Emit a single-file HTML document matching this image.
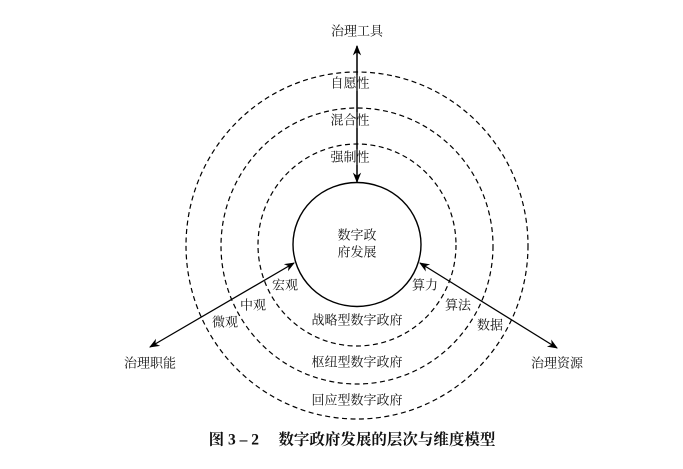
<!DOCTYPE html>
<html><head><meta charset="utf-8"><style>
html,body{margin:0;padding:0;background:#fff;}
svg text{font-family:"Liberation Serif","Noto Serif CJK SC",serif;font-size:13px;fill:#111;text-anchor:middle;dominant-baseline:central;}
</style></head><body>
<svg width="683" height="464" viewBox="0 0 683 464" xmlns="http://www.w3.org/2000/svg">
<defs><marker id="a" viewBox="0 0 10 10" refX="9" refY="5" markerWidth="8" markerHeight="8" orient="auto-start-reverse"><path d="M0,1 L10,5 L0,9 L3,5 z" fill="#000"/></marker></defs>
<g fill="none" stroke="#000" stroke-width="1.2" stroke-dasharray="5,3.5">
<ellipse cx="357" cy="245.5" rx="171" ry="173.5"/>
<ellipse cx="357" cy="246" rx="136" ry="138"/>
<ellipse cx="357" cy="245" rx="99" ry="101"/>
</g>
<ellipse cx="357" cy="244.5" rx="64" ry="62" fill="none" stroke="#000" stroke-width="1.4"/>
<g stroke="#000" stroke-width="1.3" fill="none">
<line x1="357" y1="46" x2="357" y2="182" marker-start="url(#a)" marker-end="url(#a)"/>
<line x1="150" y1="347" x2="294" y2="263" marker-start="url(#a)" marker-end="url(#a)"/>
<line x1="557" y1="348" x2="420" y2="263" marker-start="url(#a)" marker-end="url(#a)"/>
</g>
<g>
<rect x="328" y="75" width="44" height="16" fill="#fff"/>
<rect x="328" y="112" width="44" height="16" fill="#fff"/>
<rect x="328" y="149" width="44" height="16" fill="#fff"/>
</g>
<line x1="357" y1="46" x2="357" y2="182" stroke="#000" stroke-width="1.3"/>
<text x="357" y="31">治理工具</text>
<text x="350" y="83">自愿性</text>
<text x="350" y="120">混合性</text>
<text x="350" y="157">强制性</text>
<text x="357" y="235">数字政</text>
<text x="357" y="252">府发展</text>
<text x="285" y="285">宏观</text>
<text x="253" y="305">中观</text>
<text x="225" y="322">微观</text>
<text x="425" y="285">算力</text>
<text x="458" y="305">算法</text>
<text x="490" y="325">数据</text>
<text x="357" y="320">战略型数字政府</text>
<text x="357" y="362">枢纽型数字政府</text>
<text x="357" y="400">回应型数字政府</text>
<text x="150" y="363">治理职能</text>
<text x="557" y="363">治理资源</text>
<text x="352" y="440" style="font-weight:bold;font-size:15.5px">图 3 – 2　  数字政府发展的层次与维度模型</text>
</svg>
</body></html>
